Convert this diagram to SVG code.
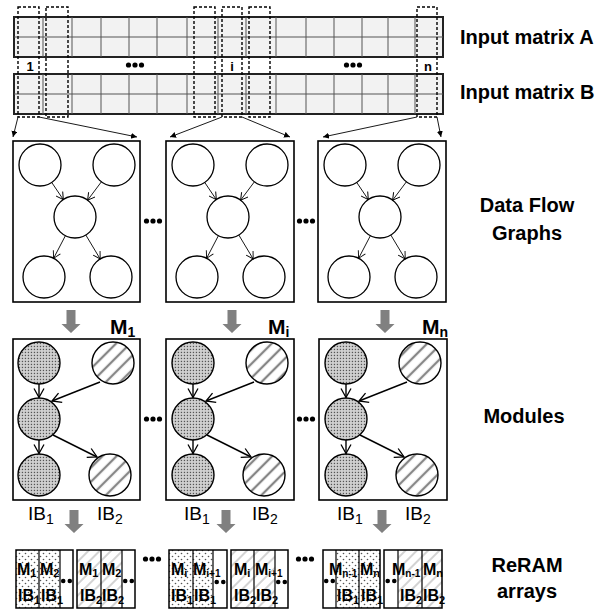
<svg xmlns="http://www.w3.org/2000/svg" xmlns:xlink="http://www.w3.org/1999/xlink" width="603" height="611" viewBox="0 0 603 611">
<style>
.lbl{font-family:"Liberation Sans",Arial,sans-serif;font-weight:bold;font-size:20px;fill:#000}
.ml{font-family:"Liberation Sans",Arial,sans-serif;font-weight:bold;font-size:21px;fill:#000}
.num{font-family:"Liberation Sans",Arial,sans-serif;font-weight:bold;font-size:13px;fill:#000}
.ib{font-family:"Liberation Sans",Arial,sans-serif;font-size:19px;fill:#000}
.cell{font-family:"Liberation Sans",Arial,sans-serif;font-weight:bold;font-size:16px;fill:#000}
.box{fill:#fff;stroke:#000;stroke-width:1.6}
.c{fill:#fff;stroke:#000;stroke-width:1.3}
.cd{fill:url(#dots);stroke:#000;stroke-width:1.4}
.ch{fill:url(#hatch);stroke:#000;stroke-width:1.4}
.mat{fill:#f2f2f2;stroke:#222;stroke-width:2}
.grid{stroke:#555;stroke-width:1;fill:none}
.sel{fill:none;stroke:#000;stroke-width:1.4;stroke-dasharray:3 2}
.thin{stroke:#000;stroke-width:0.9;fill:none;marker-end:url(#vsm)}
.fine{stroke:#000;stroke-width:0.9;fill:none;marker-end:url(#tri)}
.med{stroke:#000;stroke-width:1.4;fill:none;marker-end:url(#vlg)}
.arrbox{fill:none;stroke:#000;stroke-width:1.5}
.div{stroke:#000;stroke-width:1.2}
.rd{fill:url(#rdots)}
.rh{fill:url(#rhatch)}
.dot{fill:#000}
</style>
<defs>
<pattern id="dots" patternUnits="userSpaceOnUse" width="3" height="3">
<rect width="3" height="3" fill="#d2d2d2"/>
<rect x="0.8" y="0.8" width="1.3" height="1.3" fill="#555"/>
</pattern>
<pattern id="hatch" patternUnits="userSpaceOnUse" width="10" height="10" patternTransform="rotate(45)">
<rect width="10" height="10" fill="#fff"/>
<line x1="5" y1="0" x2="5" y2="10" stroke="#a0a0a0" stroke-width="2.4"/>
<line x1="5" y1="0" x2="5" y2="10" stroke="#555" stroke-width="0.7"/>
</pattern>
<pattern id="rdots" patternUnits="userSpaceOnUse" width="6" height="6">
<rect width="6" height="6" fill="#fff"/>
<circle cx="1.5" cy="1.5" r="0.8" fill="#555"/>
<circle cx="4.5" cy="4.5" r="0.8" fill="#555"/>
</pattern>
<pattern id="rhatch" patternUnits="userSpaceOnUse" width="8" height="8" patternTransform="rotate(45)">
<rect width="8" height="8" fill="#fff"/>
<line x1="4" y1="0" x2="4" y2="8" stroke="#bcbcbc" stroke-width="1.3"/>
</pattern>
<marker id="tri" markerUnits="userSpaceOnUse" markerWidth="8" markerHeight="8" refX="6" refY="3" orient="auto">
<path d="M0,0 L6,3 L0,6 z" fill="#000"/>
</marker>
<marker id="vsm" markerUnits="userSpaceOnUse" markerWidth="10" markerHeight="10" refX="7" refY="4" orient="auto" style="overflow:visible">
<path d="M0,0 L7,4 L0,8" fill="none" stroke="#000" stroke-width="0.9"/>
</marker>
<marker id="vlg" markerUnits="userSpaceOnUse" markerWidth="12" markerHeight="12" refX="9" refY="5" orient="auto" style="overflow:visible">
<path d="M0,0 L9,5 L0,10" fill="none" stroke="#000" stroke-width="1.3"/>
</marker>
<path id="garr" d="M-4.5,0 h9 v14 h5 l-9.5,9 l-9.5,-9 h5 z" fill="#808080"/>
<g id="ell3"><circle cx="-6.5" cy="0" r="2.6"/><circle cx="0" cy="0" r="2.6"/><circle cx="6.5" cy="0" r="2.6"/></g>
<g id="ell2"><circle cx="-3.3" cy="0" r="2.3"/><circle cx="3.3" cy="0" r="2.3"/></g>
</defs>

<!-- Input matrices -->
<g id="matrixA">
<rect class="mat" x="14" y="17" width="429" height="40"/>
<path class="grid" d="M14,37 H443 M43,17 V57 M72,17 V57 M101,17 V57 M129,17 V57 M157,17 V57 M187,17 V57 M218,17 V57 M246,17 V57 M276,17 V57 M306,17 V57 M334,17 V57 M362,17 V57 M388,17 V57 M415,17 V57"/>
</g>
<g id="matrixB">
<rect class="mat" x="14" y="74" width="429" height="40"/>
<path class="grid" d="M14,94 H443 M43,74 V114 M72,74 V114 M101,74 V114 M129,74 V114 M157,74 V114 M187,74 V114 M218,74 V114 M246,74 V114 M276,74 V114 M306,74 V114 M334,74 V114 M362,74 V114 M388,74 V114 M415,74 V114"/>
</g>
<g id="selections">
<rect class="sel" x="18" y="7" width="21" height="110"/>
<rect class="sel" x="46" y="7" width="22" height="110"/>
<rect class="sel" x="194" y="7" width="21" height="110"/>
<rect class="sel" x="222" y="7" width="20" height="110"/>
<rect class="sel" x="249" y="7" width="21" height="110"/>
<rect class="sel" x="417" y="7" width="20" height="110"/>
<text class="num" x="30" y="71" text-anchor="middle">1</text>
<text class="num" x="232" y="71" text-anchor="middle">i</text>
<text class="num" x="428" y="71" text-anchor="middle">n</text>
<use xlink:href="#ell3" x="135" y="65" class="dot"/>
<use xlink:href="#ell3" x="353" y="65" class="dot"/>
</g>

<!-- Data flow graphs -->
<g id="dfg1">
<rect class="box" x="13" y="141" width="127" height="161"/>
<circle class="c" cx="40" cy="165" r="21"/>
<circle class="c" cx="114" cy="165" r="21"/>
<circle class="c" cx="75" cy="217" r="21"/>
<circle class="c" cx="44" cy="277" r="21"/>
<circle class="c" cx="111" cy="277" r="21"/>
</g>
<g id="dfg2">
<rect class="box" x="166" y="141" width="128" height="161"/>
<circle class="c" cx="193" cy="165" r="21"/>
<circle class="c" cx="267" cy="165" r="21"/>
<circle class="c" cx="228" cy="217" r="21"/>
<circle class="c" cx="197" cy="277" r="21"/>
<circle class="c" cx="264" cy="277" r="21"/>
</g>
<g id="dfg3">
<rect class="box" x="318" y="141" width="128" height="161"/>
<circle class="c" cx="345" cy="165" r="21"/>
<circle class="c" cx="419" cy="165" r="21"/>
<circle class="c" cx="380" cy="217" r="21"/>
<circle class="c" cx="349" cy="277" r="21"/>
<circle class="c" cx="416" cy="277" r="21"/>
</g>
<g id="dfg-ellipses">
<use xlink:href="#ell3" x="153" y="221" class="dot"/>
<use xlink:href="#ell3" x="306" y="221" class="dot"/>
</g>

<!-- Modules -->
<g id="mod1">
<rect class="box" x="13" y="339" width="127" height="161"/>
<circle class="cd" cx="39" cy="363" r="21"/>
<circle class="ch" cx="113" cy="363" r="21"/>
<circle class="cd" cx="39" cy="419" r="21"/>
<circle class="cd" cx="39" cy="475" r="21"/>
<circle class="ch" cx="110" cy="475" r="21"/>
<text class="ml" x="110" y="334">M<tspan font-size="14" dy="3">1</tspan></text>
<text class="ib" x="28" y="520">IB<tspan font-size="14" dy="4">1</tspan></text>
<text class="ib" x="97" y="520">IB<tspan font-size="14" dy="4">2</tspan></text>
</g>
<g id="mod2">
<rect class="box" x="166" y="339" width="128" height="161"/>
<circle class="cd" cx="193" cy="363" r="21"/>
<circle class="ch" cx="267" cy="363" r="21"/>
<circle class="cd" cx="193" cy="419" r="21"/>
<circle class="cd" cx="193" cy="475" r="21"/>
<circle class="ch" cx="264" cy="475" r="21"/>
<text class="ml" x="268" y="334">M<tspan font-size="14" dy="3">i</tspan></text>
<text class="ib" x="184" y="520">IB<tspan font-size="14" dy="4">1</tspan></text>
<text class="ib" x="252" y="520">IB<tspan font-size="14" dy="4">2</tspan></text>
</g>
<g id="mod3">
<rect class="box" x="319" y="339" width="128" height="161"/>
<circle class="cd" cx="346" cy="363" r="21"/>
<circle class="ch" cx="420" cy="363" r="21"/>
<circle class="cd" cx="346" cy="419" r="21"/>
<circle class="cd" cx="346" cy="475" r="21"/>
<circle class="ch" cx="417" cy="475" r="21"/>
<text class="ml" x="422" y="334">M<tspan font-size="14" dy="3">n</tspan></text>
<text class="ib" x="337" y="520">IB<tspan font-size="14" dy="4">1</tspan></text>
<text class="ib" x="405" y="520">IB<tspan font-size="14" dy="4">2</tspan></text>
</g>
<g id="mod-ellipses">
<use xlink:href="#ell3" x="153" y="419" class="dot"/>
<use xlink:href="#ell3" x="306" y="419" class="dot"/>
</g>

<!-- ReRAM arrays -->
<g id="array1">
<rect class="rd" x="16" y="550" width="44" height="58"/>
<rect class="arrbox" x="16" y="550" width="57" height="58"/>
<path class="div" d="M39,550 V608 M60,550 V608"/>
<text class="cell" x="17" y="575">M<tspan font-size="11" dy="2">1</tspan></text>
<text class="cell" x="40" y="575">M<tspan font-size="11" dy="2">2</tspan></text>
<text class="cell" x="18" y="601">IB<tspan font-size="11" dy="3">1</tspan></text>
<text class="cell" x="41" y="601">IB<tspan font-size="11" dy="3">1</tspan></text>
<use xlink:href="#ell2" x="66.5" y="581" class="dot"/>
</g>
<g id="array2">
<rect class="rh" x="77" y="550" width="45" height="58"/>
<rect class="arrbox" x="77" y="550" width="58" height="58"/>
<path class="div" d="M101,550 V608 M122,550 V608"/>
<text class="cell" x="79" y="575">M<tspan font-size="11" dy="2">1</tspan></text>
<text class="cell" x="102" y="575">M<tspan font-size="11" dy="2">2</tspan></text>
<text class="cell" x="80" y="601">IB<tspan font-size="11" dy="3">2</tspan></text>
<text class="cell" x="102" y="601">IB<tspan font-size="11" dy="3">2</tspan></text>
<use xlink:href="#ell2" x="128.5" y="581" class="dot"/>
</g>
<g id="array3">
<rect class="rd" x="169" y="550" width="44" height="58"/>
<rect class="arrbox" x="169" y="550" width="58" height="58"/>
<path class="div" d="M193,550 V608 M213,550 V608"/>
<text class="cell" x="171" y="575">M<tspan font-size="11" dy="2">i</tspan></text>
<text class="cell" x="193" y="575">M<tspan font-size="10" dy="2">i+1</tspan></text>
<text class="cell" x="171" y="601">IB<tspan font-size="11" dy="3">1</tspan></text>
<text class="cell" x="194" y="601">IB<tspan font-size="11" dy="3">1</tspan></text>
<use xlink:href="#ell2" x="220" y="582" class="dot"/>
</g>
<g id="array4">
<rect class="rh" x="231" y="550" width="44" height="58"/>
<rect class="arrbox" x="231" y="550" width="57" height="58"/>
<path class="div" d="M254,550 V608 M275,550 V608"/>
<text class="cell" x="234" y="575">M<tspan font-size="11" dy="2">i</tspan></text>
<text class="cell" x="255" y="575">M<tspan font-size="10" dy="2">i+1</tspan></text>
<text class="cell" x="234" y="601">IB<tspan font-size="11" dy="3">2</tspan></text>
<text class="cell" x="256" y="601">IB<tspan font-size="11" dy="3">2</tspan></text>
<use xlink:href="#ell2" x="281.5" y="582" class="dot"/>
</g>
<g id="array5">
<rect class="rd" x="336" y="550" width="44" height="58"/>
<rect class="arrbox" x="323" y="550" width="57" height="58"/>
<path class="div" d="M336,550 V608 M359,550 V608"/>
<text class="cell" x="329" y="575">M<tspan font-size="10" dy="2">n-1</tspan></text>
<text class="cell" x="360" y="575">M<tspan font-size="11" dy="2">n</tspan></text>
<text class="cell" x="337" y="601">IB<tspan font-size="11" dy="3">1</tspan></text>
<text class="cell" x="361" y="601">IB<tspan font-size="11" dy="3">1</tspan></text>
<use xlink:href="#ell2" x="329.5" y="581" class="dot"/>
</g>
<g id="array6">
<rect class="rh" x="398" y="550" width="44" height="58"/>
<rect class="arrbox" x="384" y="550" width="58" height="58"/>
<path class="div" d="M398,550 V608 M422,550 V608"/>
<text class="cell" x="392" y="575">M<tspan font-size="10" dy="2">n-1</tspan></text>
<text class="cell" x="423" y="575">M<tspan font-size="11" dy="2">n</tspan></text>
<text class="cell" x="400" y="601">IB<tspan font-size="11" dy="3">2</tspan></text>
<text class="cell" x="423" y="601">IB<tspan font-size="11" dy="3">2</tspan></text>
<use xlink:href="#ell2" x="391" y="581" class="dot"/>
</g>
<g id="array-ellipses">
<use xlink:href="#ell3" x="152" y="559" class="dot"/>
<use xlink:href="#ell3" x="305" y="559" class="dot"/>
</g>

<!-- Connectors -->
<g id="connectors">
<g id="matrix-to-dfg">
<line class="fine" x1="18" y1="117" x2="13" y2="137"/>
<line class="fine" x1="39" y1="117" x2="137" y2="137"/>
<line class="fine" x1="222" y1="117" x2="170" y2="137"/>
<line class="fine" x1="242" y1="117" x2="290" y2="137"/>
<line class="fine" x1="417" y1="117" x2="323" y2="137"/>
<line class="fine" x1="437" y1="117" x2="441" y2="137"/>
</g>
<g id="dfg-edges-1" transform="translate(13,0)">
<line class="thin" x1="38.7" y1="182.4" x2="50.3" y2="199.6"/>
<line class="thin" x1="88.4" y1="181.8" x2="74.6" y2="200.2"/>
<line class="thin" x1="52.4" y1="235.7" x2="40.6" y2="258.3"/>
<line class="thin" x1="72.8" y1="235" x2="87.2" y2="259"/>
</g>
<g id="dfg-edges-2" transform="translate(166,0)">
<line class="thin" x1="38.7" y1="182.4" x2="50.3" y2="199.6"/>
<line class="thin" x1="88.4" y1="181.8" x2="74.6" y2="200.2"/>
<line class="thin" x1="52.4" y1="235.7" x2="40.6" y2="258.3"/>
<line class="thin" x1="72.8" y1="235" x2="87.2" y2="259"/>
</g>
<g id="dfg-edges-3" transform="translate(318,0)">
<line class="thin" x1="38.7" y1="182.4" x2="50.3" y2="199.6"/>
<line class="thin" x1="88.4" y1="181.8" x2="74.6" y2="200.2"/>
<line class="thin" x1="52.4" y1="235.7" x2="40.6" y2="258.3"/>
<line class="thin" x1="72.8" y1="235" x2="87.2" y2="259"/>
</g>
<g id="mod-edges-1" transform="translate(13,0)">
<line class="med" x1="26" y1="384" x2="26" y2="397.5"/>
<line class="med" x1="87" y1="382" x2="39" y2="401"/>
<line class="med" x1="26" y1="440" x2="26" y2="453.5"/>
<line class="med" x1="40" y1="435" x2="84" y2="457"/>
</g>
<g id="mod-edges-2" transform="translate(167,0)">
<line class="med" x1="26" y1="384" x2="26" y2="397.5"/>
<line class="med" x1="87" y1="382" x2="39" y2="401"/>
<line class="med" x1="26" y1="440" x2="26" y2="453.5"/>
<line class="med" x1="40" y1="435" x2="84" y2="457"/>
</g>
<g id="mod-edges-3" transform="translate(320,0)">
<line class="med" x1="26" y1="384" x2="26" y2="397.5"/>
<line class="med" x1="87" y1="382" x2="39" y2="401"/>
<line class="med" x1="26" y1="440" x2="26" y2="453.5"/>
<line class="med" x1="40" y1="435" x2="84" y2="457"/>
</g>
<g id="stage-arrows">
<use xlink:href="#garr" x="71" y="310"/>
<use xlink:href="#garr" x="232" y="310"/>
<use xlink:href="#garr" x="385" y="310"/>
<use xlink:href="#garr" x="74" y="510"/>
<use xlink:href="#garr" x="226" y="510"/>
<use xlink:href="#garr" x="382" y="510"/>
</g>
</g>

<!-- Stage labels -->
<g id="labels">
<text class="lbl" x="460" y="44">Input matrix A</text>
<text class="lbl" x="460" y="99">Input matrix B</text>
<text class="lbl" x="527" y="212" text-anchor="middle">Data Flow</text>
<text class="lbl" x="527" y="240" text-anchor="middle">Graphs</text>
<text class="lbl" x="524" y="423" text-anchor="middle">Modules</text>
<text class="lbl" x="527" y="572" text-anchor="middle">ReRAM</text>
<text class="lbl" x="527" y="598" text-anchor="middle">arrays</text>
</g>
</svg>
